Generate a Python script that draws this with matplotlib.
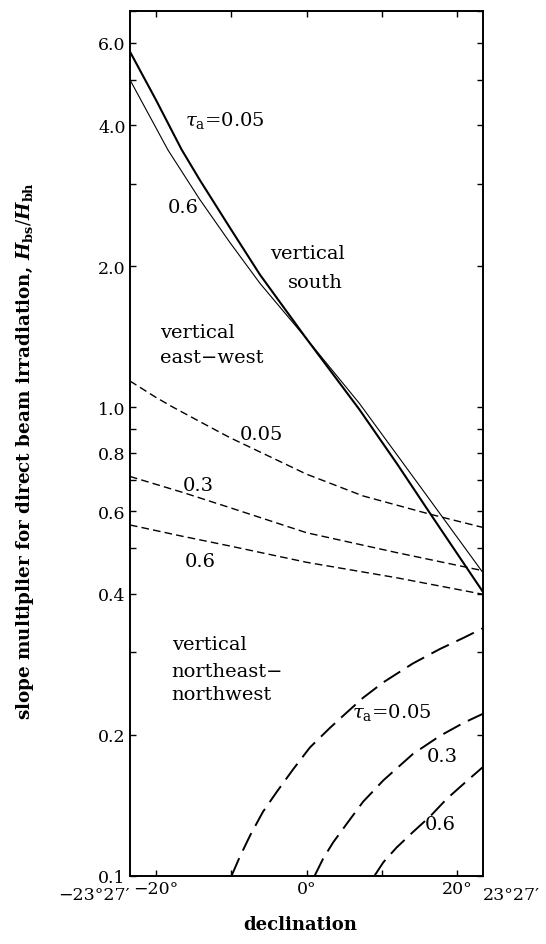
import numpy as np
import matplotlib
matplotlib.use('Agg')
import matplotlib.pyplot as plt
from matplotlib.ticker import FixedLocator, NullFormatter, FixedFormatter

plt.rcParams['font.family'] = ['DejaVu Serif', 'DejaVu Sans']
plt.rcParams['mathtext.fontset'] = 'dejavuserif'
plt.rcParams['lines.scale_dashes'] = False

# declinacion (grados) y multiplicador
dec_sur_005 = [-23.45, -20, -16.6, -14.2, -10.2, -6.2, 0, 7.0, 12.0, 16.3, 23.45]
sur_005 = [5.74, 4.53, 3.55, 3.06, 2.42, 1.92, 1.40, 0.99, 0.758, 0.597, 0.403]
dec_sur_06 = [-23.45, -20, -18.4, -14.2, -10.2, -6.2, 0, 7.0, 12.0, 16.3, 23.45]
sur_06 = [5.0, 3.95, 3.54, 2.78, 2.25, 1.84, 1.40, 1.02, 0.792, 0.637, 0.443]

dec_eo_005 = [-23.45, -20, -17.7, -14, -10.2, 0, 7.5, 16.3, 23.45]
eo_005 = [1.138, 1.05, 1.0, 0.929, 0.862, 0.720, 0.647, 0.592, 0.554]
dec_eo_03 = [-23.45, -16.4, -10.2, 0, 11.9, 23.45]
eo_03 = [0.712, 0.658, 0.611, 0.540, 0.490, 0.448]
dec_eo_06 = [-23.45, -16.8, -10.2, 0, 11.9, 23.45]
eo_06 = [0.561, 0.532, 0.506, 0.467, 0.433, 0.399]

dec_ne_005 = [-9.97, -8.85, -7.5, -5.8, -3.98, -1.77, 0.44, 3.1, 5.3, 7.5,
              10.2, 14.1, 17.7, 20.8, 23.45]
ne_005 = [0.1, 0.110, 0.122, 0.137, 0.151, 0.169, 0.188, 0.207, 0.223, 0.240,
          0.259, 0.284, 0.305, 0.322, 0.338]
dec_ne_03 = [1.06, 2.21, 3.54, 5.3, 7.5, 10.2, 14.1, 17.7, 20.8, 23.45]
ne_03 = [0.1, 0.109, 0.118, 0.129, 0.144, 0.160, 0.182, 0.199, 0.212, 0.222]
dec_ne_06 = [9.0, 10.2, 11.95, 14.1, 16.4, 18.6, 20.8, 23.45]
ne_06 = [0.1, 0.107, 0.115, 0.124, 0.134, 0.146, 0.157, 0.171]

ticks_y = [0.1, 0.2, 0.4, 0.6, 0.8, 1.0, 2.0, 4.0, 6.0]
ticks_y_menores = [0.3, 0.5, 0.7, 0.9, 3.0, 5.0, 7.0]
ticks_x = [-20, -10, 0, 10, 20]
etiquetas_x = ['\u221220\u00b0', '', '0\u00b0', '', '20\u00b0']

fig = plt.figure(figsize=(5.46, 9.45), dpi=100)
ax = fig.add_axes([0.238, 0.072, 0.647, 0.915])

# vertical sur (continuas)
ax.plot(dec_sur_005, sur_005, color='black', lw=1.5)
ax.plot(dec_sur_06, sur_06, color='black', lw=0.8)

# vertical este-oeste (guiones cortos)
for d, v in [(dec_eo_005, eo_005), (dec_eo_03, eo_03), (dec_eo_06, eo_06)]:
    ax.plot(d, v, color='black', lw=1.0, dashes=(5.5, 3.0))

# vertical noreste-noroeste (guiones largos)
for d, v in [(dec_ne_005, ne_005), (dec_ne_03, ne_03), (dec_ne_06, ne_06)]:
    ax.plot(d, v, color='black', lw=1.4, dashes=(14.0, 6.0))

ax.set_yscale('log')
ax.set_xlim(-23.45, 23.45)
ax.set_ylim(0.1, 7.0)

ax.yaxis.set_major_locator(FixedLocator(ticks_y))
ax.yaxis.set_major_formatter(FixedFormatter(['%.1f' % t for t in ticks_y]))
ax.yaxis.set_minor_locator(FixedLocator(ticks_y_menores))
ax.yaxis.set_minor_formatter(NullFormatter())
ax.set_xticks(ticks_x)
ax.set_xticklabels(etiquetas_x)

ax.tick_params(which='both', direction='in', length=4.5, width=1.0,
               top=True, right=True, labelsize=12.5, pad=3)
for s in ax.spines.values():
    s.set_linewidth(1.4)

# etiquetas de los extremos
ax.text(-23.45, -0.012, '\u221223\u00b027\u2032', transform=ax.get_xaxis_transform(),
        ha='right', va='top', fontsize=12.5)
ax.text(23.45, -0.012, '23\u00b027\u2032', transform=ax.get_xaxis_transform(),
        ha='left', va='top', fontsize=12.5)

fs = 14
ax.text(-16.15, 4.11, r'$\tau_\mathrm{a}$=0.05', fontsize=fs, va='center', ha='left')
ax.text(-18.4, 2.67, '0.6', fontsize=fs, va='center', ha='left')
ax.text(0.05, 2.13, 'vertical', fontsize=fs, va='center', ha='center')
ax.text(1.1, 1.85, 'south', fontsize=fs, va='center', ha='center')
ax.text(-19.5, 1.45, 'vertical', fontsize=fs, va='center', ha='left')
ax.text(-19.5, 1.278, 'east\u2212west', fontsize=fs, va='center', ha='left')
ax.text(-8.85, 0.876, '0.05', fontsize=fs, va='center', ha='left')
ax.text(-16.4, 0.682, '0.3', fontsize=fs, va='center', ha='left')
ax.text(-16.15, 0.470, '0.6', fontsize=fs, va='center', ha='left')
ax.text(-17.9, 0.313, 'vertical', fontsize=fs, va='center', ha='left')
ax.text(-17.9, 0.274, 'northeast\u2212', fontsize=fs, va='center', ha='left')
ax.text(-17.9, 0.244, 'northwest', fontsize=fs, va='center', ha='left')
ax.text(6.0, 0.224, r'$\tau_\mathrm{a}$=0.05', fontsize=fs, va='center', ha='left')
ax.text(15.97, 0.180, '0.3', fontsize=fs, va='center', ha='left')
ax.text(15.7, 0.129, '0.6', fontsize=fs, va='center', ha='left')

fig.text(0.046, 1 - 451 / 945,
         r'slope multiplier for direct beam irradiation, $\mathbfit{H}_\mathbf{bs}/\mathbfit{H}_\mathbf{bh}$',
         rotation=90, va='center', ha='center', fontsize=13.2, fontweight='bold')
fig.text(300 / 546, 1 - 925 / 945, 'declination', ha='center', va='center',
         fontsize=13, fontweight='bold')

fig.savefig('out.png', dpi=100)
